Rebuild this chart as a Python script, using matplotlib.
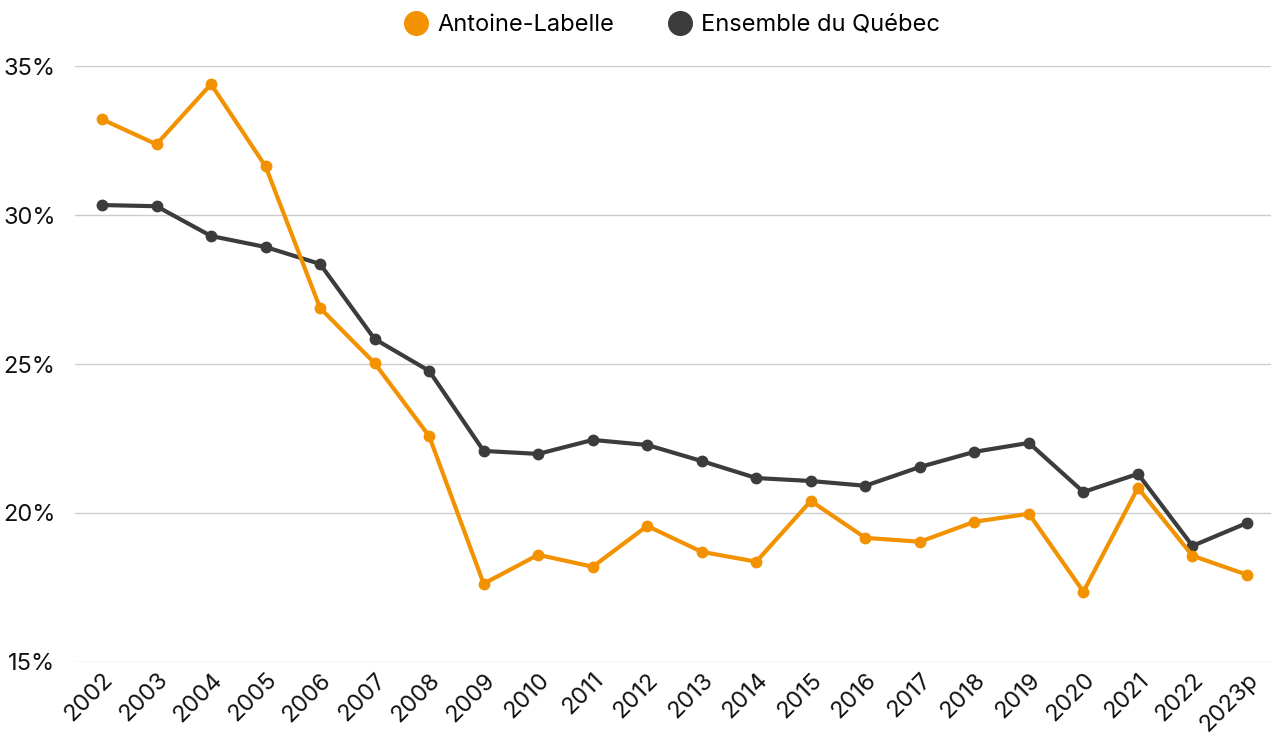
import matplotlib.pyplot as plt
from matplotlib.lines import Line2D
from matplotlib.ticker import FuncFormatter

plt.rcParams['font.family'] = ['Inter', 'DejaVu Sans']

# data (%)
years = ['2002', '2003', '2004', '2005', '2006', '2007', '2008', '2009', '2010', '2011', '2012',
         '2013', '2014', '2015', '2016', '2017', '2018', '2019', '2020', '2021', '2022', '2023p']
antoine_labelle = [33.22, 32.38, 34.40, 31.64, 26.88, 25.03, 22.58, 17.62, 18.59, 18.19, 19.56,
                   18.69, 18.36, 20.40, 19.16, 19.03, 19.70, 19.97, 17.35, 20.84, 18.56, 17.92]
quebec = [30.34, 30.30, 29.30, 28.93, 28.36, 25.84, 24.77, 22.08, 21.98, 22.45, 22.28,
          21.74, 21.17, 21.07, 20.91, 21.54, 22.05, 22.35, 20.70, 21.31, 18.89, 19.66]

orange = '#F39200'
dark = '#3C3C3C'

fig = plt.figure(figsize=(12.71, 7.40), dpi=100)
ax = fig.add_axes([0.059, 0.1054, 0.941, 0.8054])

x = range(len(years))
ax.plot(x, quebec, color=dark, lw=3, marker='o', ms=7.5, zorder=3)
ax.plot(x, antoine_labelle, color=orange, lw=3, marker='o', ms=7.5, zorder=4)

ax.set_ylim(14.99, 35.01)
ax.set_xlim(-0.495, 21.44)
ax.set_yticks([15, 20, 25, 30, 35])
ax.yaxis.set_major_formatter(FuncFormatter(lambda v, p: f'{v:.0f}%'))
ax.set_xticks(list(x))
ax.set_xticklabels(years, rotation=45, ha='right', rotation_mode='anchor')
ax.tick_params(axis='both', length=0, labelsize=17, colors='#111111')
ax.tick_params(axis='x', pad=5)
ax.tick_params(axis='y', pad=14)
ax.grid(axis='y', color='#CCCCCC', lw=1)
ax.set_axisbelow(True)
for s in ax.spines.values():
    s.set_visible(False)

handles = [Line2D([], [], ls='none', marker='o', ms=17, color=orange),
           Line2D([], [], ls='none', marker='o', ms=17, color=dark)]
fig.legend(handles, ['Antoine-Labelle', 'Ensemble du Québec'], loc='upper center',
           bbox_to_anchor=(0.528, 1.01), ncol=2, frameon=False, fontsize=17,
           handletextpad=0.3, columnspacing=2.2, handlelength=1.2)

fig.savefig('out.png', dpi=100)
